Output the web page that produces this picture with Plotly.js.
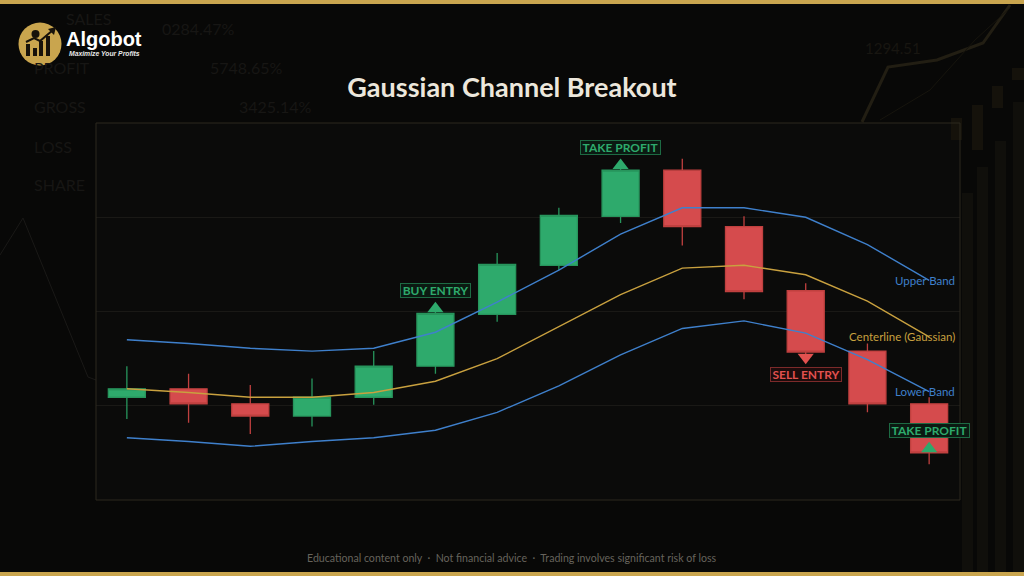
<!DOCTYPE html>
<html><head><meta charset="utf-8">
<script src="https://cdn.plot.ly/plotly-3.0.1.min.js"></script>
<style>html,body{margin:0;padding:0;background:#080807;overflow:hidden}#chart{width:1024px;height:576px}</style>
</head><body><div id="chart"></div>
<script>
// ---- data ----
const sessions   = [0,1,2,3,4,5,6,7,8,9,10,11,12,13];
const openP      = [110.9,111.8,110.2,108.9,110.9,114.2,119.7,124.9,130.1,135.0,129.0,122.2,115.8,110.2];
const highP      = [114.2,113.4,112.2,112.9,115.8,120.0,126.2,131.0,135.2,136.2,130.1,123.0,116.6,110.9];
const lowP       = [108.6,108.2,107.0,107.8,110.1,113.4,118.9,124.4,129.4,127.0,121.3,115.3,109.3,103.8];
const closeP     = [111.8,110.2,108.9,110.9,114.2,119.8,125.0,130.2,135.0,129.0,122.1,115.7,110.2,105.0];
const upperBand  = [117.0,116.6,116.1,115.8,116.1,117.8,121.0,124.4,128.2,131.0,131.0,130.0,127.1,123.3];
const centerLine = [111.8,111.4,110.9,110.9,111.4,112.6,115.0,118.4,121.8,124.6,124.9,123.9,121.1,117.3];
const lowerBand  = [106.6,106.2,105.7,106.2,106.6,107.4,109.3,112.1,115.4,118.2,119.0,117.7,114.9,111.5];
const bandNames  = ['Upper Band','Centerline (Gaussian)','Lower Band'];
const sigIdx     = [5, 8, 11, 13];
const sigText    = ['BUY ENTRY','TAKE PROFIT','SELL ENTRY','TAKE PROFIT'];
const sigKind    = ['buy','tp','sell','tp'];
const sigPlace   = ['above','above','below','inside'];
const bgLabels   = ['SALES','PROFIT','GROSS','LOSS','SHARE'];
const bgValues   = ['0284.47%','5748.65%','3425.14%'];
const bgPrice    = '1294.51';

// ---- style ----
const GREEN='#2eaa6c', RED='#d54b4d', BLUE='#3f80cc', GOLD='#c9a13f';
const L=96, R=960, T=123, B=500, W=R-L, H=B-T;
const px=x=>(x-L)/W, py=y=>(B-y)/H;
const FONT='Lato, "Noto Sans", sans-serif';

function sigY(i){
  const k=sigIdx[i], p=sigPlace[i];
  if(p==='above') return highP[k]+0.3;
  if(p==='below') return closeP[k]-0.55;
  return closeP[k]+0.45;
}
const sigStyle={
  buy:{c:GREEN,b:'#1d6a43',bg:'#0b1a12',sym:'triangle-up',dy:18},
  tp:{c:GREEN,b:'#1d6a43',bg:'#0b1a12',sym:'triangle-up',dy:18},
  sell:{c:'#e2514f',b:'#7c2a2a',bg:'#1c0c0c',sym:'triangle-down',dy:-17}
};
const labelW={'BUY ENTRY':67,'TAKE PROFIT':77,'SELL ENTRY':68};

const traces=[];
traces.push({type:'candlestick',x:sessions,open:openP,high:highP,low:lowP,close:closeP,
  increasing:{line:{color:'#27955c',width:1.3},fillcolor:GREEN},
  decreasing:{line:{color:'#c0403f',width:1.3},fillcolor:RED},
  whiskerwidth:0,hoverinfo:'none',showlegend:false});
const bands=[upperBand,centerLine,lowerBand], bandCol=[BLUE,GOLD,BLUE];
bands.forEach((b,i)=>traces.push({type:'scatter',mode:'lines',x:sessions,y:b,
  line:{color:bandCol[i],width:1.4},hoverinfo:'skip',showlegend:false,name:bandNames[i]}));
sigIdx.forEach((k,i)=>{
  const s=sigStyle[sigKind[i]];
  traces.push({type:'scatter',mode:'markers',x:[k],y:[sigY(i)],
    marker:{symbol:s.sym,size:14,color:s.c,line:{width:0}},hoverinfo:'skip',showlegend:false});
});

const ann=[];
// faint background texts (drawn first)
const bgC='#171614';
const bgLabY=[19,68,107,146,184];
bgLabels.forEach((t,i)=>ann.push({xref:'paper',yref:'paper',x:px(i===0?64:32),y:py(bgLabY[i]),text:t,
  showarrow:false,xanchor:'left',yanchor:'middle',font:{family:FONT,size:16,color:bgC}}));
const bgValX=[160,208,237], bgValY=[29,68,107];
bgValues.forEach((t,i)=>ann.push({xref:'paper',yref:'paper',x:px(bgValX[i]),y:py(bgValY[i]),text:t,
  showarrow:false,xanchor:'left',yanchor:'middle',font:{family:FONT,size:16,color:bgC}}));
ann.push({xref:'paper',yref:'paper',x:px(863),y:py(48),text:bgPrice,showarrow:false,xanchor:'left',
  yanchor:'middle',font:{family:FONT,size:15,color:'#181611'}});
sigIdx.forEach((k,i)=>{
  const s=sigStyle[sigKind[i]];
  ann.push({x:k,y:sigY(i),xref:'x',yref:'y',text:'<b>'+sigText[i]+'</b>',showarrow:false,
    yshift:s.dy,font:{family:FONT,size:12,color:s.c},bgcolor:s.bg,bordercolor:s.b,
    borderwidth:1,borderpad:1,width:labelW[sigText[i]],height:11});
});
bands.forEach((b,i)=>ann.push({x:sessions[sessions.length-1],y:b[b.length-1],xref:'x',yref:'y',
  text:bandNames[i],showarrow:false,xanchor:'right',yanchor:'middle',xshift:28,
  font:{family:FONT,size:11.5,color:bandCol[i]}}));
// logo texts
ann.push({xref:'paper',yref:'paper',x:px(64),y:py(38.5),text:'<b>Algobot</b>',showarrow:false,
  xanchor:'left',yanchor:'middle',font:{family:'"Liberation Sans", Arial, sans-serif',size:20,color:'#ffffff'}});
ann.push({xref:'paper',yref:'paper',x:px(67),y:py(53.5),text:'<b><i>Maximize Your Profits</i></b>',showarrow:false,
  xanchor:'left',yanchor:'middle',font:{family:'"Liberation Sans", Arial, sans-serif',size:6.8,color:'#e8e8e8'}});
// footer
ann.push({xref:'paper',yref:'paper',x:px(512),y:py(558),
  text:'Educational content only  ·  Not financial advice  ·  Trading involves significant risk of loss',
  showarrow:false,xanchor:'center',yanchor:'middle',font:{family:FONT,size:10.6,color:'#66635c'}});

const shapes=[];
const rectPx=(x0,y0,x1,y1,fill,layer)=>({type:'rect',xref:'paper',yref:'paper',x0:px(x0),x1:px(x1),
  y0:py(y0),y1:py(y1),fillcolor:fill,line:{width:0},layer:layer||'below'});
// gold bars
shapes.push(rectPx(0,0,1024,4,'#c9a54e','above'));
shapes.push(rectPx(0,572,1024,576,'#c9a54e','above'));
// right faint bars
[[962,193,973],[977,167,988],[995,141,1006],[1013,102,1024]].forEach(b=>shapes.push(rectPx(b[0],b[1],b[2],572,'#100f0b')));
[[972,105,983,150],[992,86,1003,108],[1012,68,1024,80],[951,118,962,140]].forEach(b=>shapes.push(rectPx(b[0],b[1],b[2],b[3],'#15120b')));
// faint glow line top-right
const pathPx=pts=>'M'+pts.map(p=>px(p[0])+','+py(p[1])).join(' L');
shapes.push({type:'path',xref:'paper',yref:'paper',path:pathPx([[862,122],[888,67],[937,60],[983,43],[1010,5]]),
  line:{color:'#221e13',width:3},layer:'below'});
shapes.push({type:'path',xref:'paper',yref:'paper',path:pathPx([[880,120],[930,90],[975,40],[1010,8]]),
  line:{color:'#16140d',width:1},layer:'below'});
// faint left line
shapes.push({type:'path',xref:'paper',yref:'paper',path:pathPx([[0,255],[23,218],[88,377],[96,380]]),
  line:{color:'#1a1917',width:1},layer:'below'});
// plot frame
shapes.push({type:'rect',xref:'paper',yref:'paper',x0:0,x1:1,y0:0,y1:1,line:{color:'#2d291f',width:1},layer:'above'});
// logo
shapes.push({type:'circle',xref:'paper',yref:'paper',x0:px(18.5),x1:px(61.5),y0:py(65.5),y1:py(22.5),
  fillcolor:'#c9a54e',line:{width:0},layer:'above'});
[[26,44,30],[33,48,37],[39,41,43],[46,36,50]].forEach(b=>shapes.push(rectPx(b[0],b[1],b[2],56,'#17120a','above')));
shapes.push({type:'path',xref:'paper',yref:'paper',path:pathPx([[26,42],[34,38],[40,41],[53,30]]),
  line:{color:'#17120a',width:2},layer:'above'});
shapes.push({type:'path',xref:'paper',yref:'paper',path:pathPx([[48,29],[56,27],[54,35]])+' Z',
  fillcolor:'#17120a',line:{width:0},layer:'above'});
shapes.push({type:'circle',xref:'paper',yref:'paper',x0:px(31.5),x1:px(39.5),y0:py(38),y1:py(30),
  fillcolor:'#17120a',line:{width:0},layer:'above'});

const layout={
  width:1024,height:576,margin:{l:L,r:1024-R,t:T,b:576-B,pad:0},
  paper_bgcolor:'#080807',plot_bgcolor:'#0b0b0a',
  title:{text:'<b>Gaussian Channel Breakout</b>',x:0.5,xref:'container',xanchor:'center',
    y:1-88/576,yref:'container',yanchor:'middle',font:{family:FONT,size:27,color:'#ece7dc'}},
  xaxis:{range:[-0.5,13.5],showgrid:false,zeroline:false,showticklabels:false,ticks:'',
    showline:false,rangeslider:{visible:false},fixedrange:true},
  yaxis:{range:[100,140],tick0:100,dtick:10,showgrid:true,gridcolor:'#1a1916',gridwidth:1,
    zeroline:false,showticklabels:false,ticks:'',showline:false,fixedrange:true},
  boxgap:0.4,boxgroupgap:0,
  showlegend:false,annotations:ann,shapes:shapes,hovermode:false
};
Plotly.newPlot('chart',traces,layout,{staticPlot:true,displayModeBar:false});
</script></body></html>
